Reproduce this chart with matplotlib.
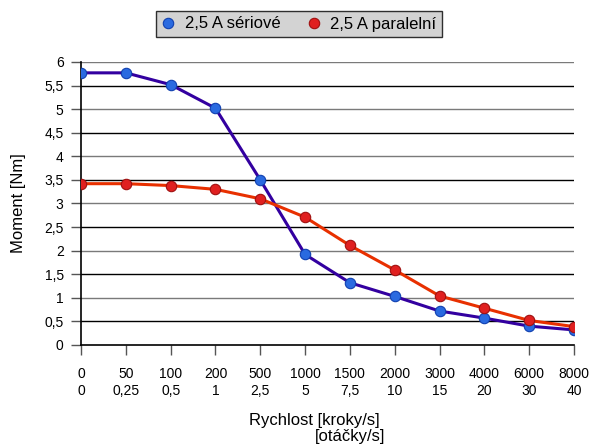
import numpy as np
import matplotlib
matplotlib.use("Agg")
import matplotlib.pyplot as plt

plt.rcParams['font.family'] = ['Liberation Sans', 'DejaVu Sans']

kroky = ["0", "50", "100", "200", "500", "1000", "1500", "2000", "3000", "4000", "6000", "8000"]
otacky = ["0", "0,25", "0,5", "1", "2,5", "5", "7,5", "10", "15", "20", "30", "40"]
seriove = [5.77, 5.77, 5.52, 5.02, 3.50, 1.92, 1.32, 1.03, 0.72, 0.57, 0.40, 0.32]
paralelni = [3.42, 3.42, 3.38, 3.30, 3.10, 2.71, 2.11, 1.59, 1.04, 0.78, 0.52, 0.39]

x = np.arange(len(kroky))

fig = plt.figure(figsize=(5.9, 4.47), dpi=100)
ax = fig.add_axes([0.1373, 0.2282, 0.8356, 0.6331])

yt = np.arange(0, 6.01, 0.5)
for i, v in enumerate(yt[1:]):
    ax.axhline(v, color='#000000' if i % 2 == 0 else '#7a7a7a', lw=1.0, zorder=1)

ax.plot(x, seriove, color='#3300a0', lw=2.2, marker='o', ms=7.5,
        mfc='#2a6ae0', mec='#1040b0', mew=0.8, zorder=3, label='2,5 A sériové')
ax.plot(x, paralelni, color='#e83000', lw=2.2, marker='o', ms=7.5,
        mfc='#e02020', mec='#a01010', mew=0.8, zorder=3, label='2,5 A paralelní')

ax.set_xlim(0, len(kroky) - 1)
ax.set_ylim(0, 6)
ax.set_yticks(yt)
ax.set_yticklabels([f"{v:g}".replace('.', ',') for v in yt])
ax.set_xticks(x)
ax.set_xticklabels([a + "\n" + b for a, b in zip(kroky, otacky)], linespacing=1.35)

for s in ['top', 'right']:
    ax.spines[s].set_visible(False)
ax.spines['left'].set_linewidth(1.2)
ax.spines['bottom'].set_linewidth(1.2)
ax.tick_params(axis='both', labelsize=10, length=7.5, width=1, direction='out', color='#555555')
ax.tick_params(axis='x', pad=8)
ax.tick_params(axis='y', pad=5)

ax.set_ylabel('Moment [Nm]', fontsize=12)
ax.yaxis.set_label_coords(-0.112, 0.5)
fig.text(314 / 590, 1 - 421 / 447, 'Rychlost [kroky/s]', ha='center', va='center', fontsize=12)
fig.text(350 / 590, 1 - 437 / 447, '[otáčky/s]', ha='center', va='center', fontsize=12)

leg = fig.legend(loc='center', bbox_to_anchor=(299 / 590, 1 - 24 / 447), ncol=2,
                 frameon=True, fancybox=False, fontsize=12, handlelength=0.8,
                 handletextpad=0.6, columnspacing=1.6, borderpad=0.35)
for h in leg.get_lines():
    h.set_linestyle('none')
leg.get_frame().set_facecolor('#c8c8c8')
leg.get_frame().set_edgecolor('#000000')
leg.get_frame().set_linewidth(1.0)

fig.savefig('out.png', dpi=100)
